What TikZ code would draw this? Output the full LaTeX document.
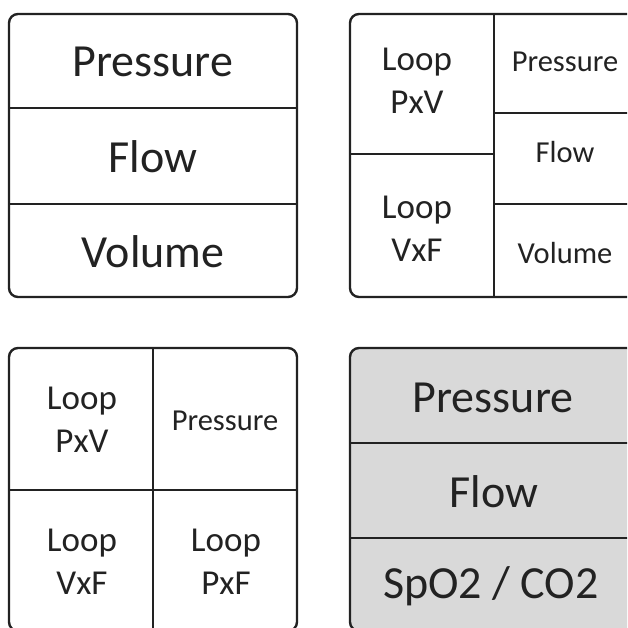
\documentclass[tikz,border=0pt]{standalone}
\usepackage{fontspec}
\setmainfont{Carlito}
\definecolor{ink}{HTML}{222222}
\definecolor{panel}{HTML}{D9D9D9}
\begin{document}
\begin{tikzpicture}[x=1pt,y=-1pt,
  frame/.style={draw=ink,line width=2.4pt,rounded corners=9pt},
  divider/.style={draw=ink,line width=2.2pt},
  big/.style={font=\fontsize{46}{55}\selectfont,text=ink,inner sep=0pt,anchor=base},
  small/.style={font=\fontsize{30.5}{37}\selectfont,text=ink,inner sep=0pt,anchor=base},
  loop/.style={font=\fontsize{35}{43}\selectfont,text=ink,align=center,inner sep=0pt,anchor=center},
]
\useasboundingbox (0,0) rectangle (627,628);
\clip (0,0) rectangle (627,628);
% Box 1
\draw[frame] (9,14) rectangle (297,297);
\draw[divider] (9,108) -- (297,108);
\draw[divider] (9,204) -- (297,204);
\node[big] (p1) at (153,77) {Pressure};
\node[big] (f1) at (153,173) {Flow};
\node[big] (v1) at (153,267) {Volume};
% Box 2
\draw[frame] (350,14) rectangle (638,297);
\draw[divider] (494,14) -- (494,297);
\draw[divider] (350,154) -- (494,154);
\draw[divider] (494,113) -- (638,113);
\draw[divider] (494,204) -- (638,204);
\node[loop] (lpv2) at (417,80.5) {Loop\\PxV};
\node[loop] (lvf2) at (417,228.5) {Loop\\VxF};
\node[small] (p2) at (565,72) {Pressure};
\node[small] (f2) at (565,163) {Flow};
\node[small] (v2) at (565,263) {Volume};
% Box 3
\draw[frame] (9,348) rectangle (297,631);
\draw[divider] (153,348) -- (153,631);
\draw[divider] (9,490) -- (297,490);
\node[loop] (lpv3) at (82,419.5) {Loop\\PxV};
\node[small] (p3) at (225,430) {Pressure};
\node[loop] (lvf3) at (82,561.5) {Loop\\VxF};
\node[loop] (lpf3) at (226,561.5) {Loop\\PxF};
% Box 4
\draw[frame,fill=panel] (350,348) rectangle (638,631);
\draw[divider] (350,443) -- (638,443);
\draw[divider] (350,538) -- (638,538);
\node[big] (p4) at (493,412) {Pressure};
\node[big] (f4) at (494,507) {Flow};
\node[big] (s4) at (491,598) {SpO2 / CO2};
\end{tikzpicture}
\end{document}
